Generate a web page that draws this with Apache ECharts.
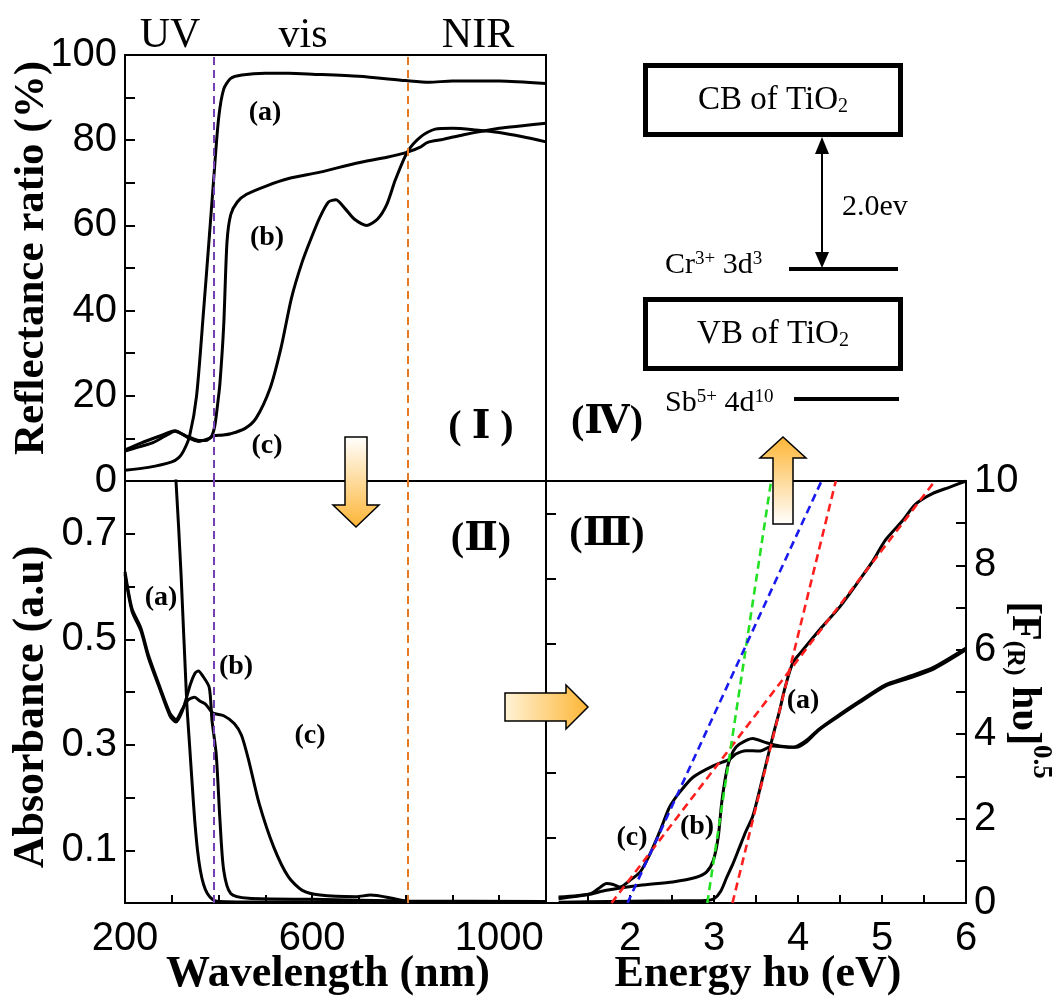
<!DOCTYPE html>
<html>
<head>
<meta charset="utf-8">
<script src="https://cdn.jsdelivr.net/npm/echarts@6/dist/echarts.min.js"></script>
<style>
  html, body { margin: 0; padding: 0; background: #fff; }
  #chart { width: 1058px; height: 1005px; }
</style>
</head>
<body>
<div id="chart"></div>
<script>
// ---- data ----
// (I) reflectance ratio (%) vs wavelength (nm)
const reflA_nm = [200, 250, 300, 315, 325, 338, 353, 368, 380, 389, 400, 411, 426, 450, 500, 550, 600, 700, 800, 850, 900, 1000, 1100];
const reflA = [2.5, 3.2, 4.5, 5.5, 7, 10.5, 20, 40, 57, 70, 85, 92, 94.5, 95.3, 95.7, 95.7, 95.5, 95, 94, 93.6, 93.9, 93.9, 93.3];
const reflB_nm = [200, 230, 260, 285, 307, 330, 355, 372, 385, 392, 398, 403, 411, 418, 426, 440, 460, 503, 550, 617, 694, 760, 804, 830, 847, 880, 924, 1000, 1050, 1100];
const reflB = [7, 8, 9, 10.5, 11.7, 10.6, 9.6, 9.5, 10.5, 13, 18, 23, 36.5, 56, 62.5, 65.5, 67.3, 69.3, 71, 72.5, 74.6, 76, 77.2, 78.3, 79.5, 80.2, 81.3, 82.8, 83.4, 84];
const reflC_nm = [200, 234, 273, 307, 334, 357, 380, 389, 410, 426, 456, 480, 510, 533, 556, 579, 598, 617, 635, 651, 670, 690, 717, 740, 760, 778, 804, 832, 863, 900, 950, 1000, 1050, 1100];
const reflC = [7.3, 8.9, 10.5, 11.8, 10.2, 9.3, 10, 10.6, 10.8, 11.1, 12.3, 14.7, 21.7, 31, 43, 51.5, 57, 62, 65.5, 66, 64, 61.5, 60, 61.5, 65, 70.7, 77.3, 80.8, 82.6, 82.8, 82.4, 81.8, 80.8, 79.6];

// (II) absorbance (a.u) vs wavelength (nm)
const absA_nm = [300, 309, 320, 332, 338, 344, 349, 355, 361, 368, 376, 388, 400, 500, 700, 800, 900, 1100];
const absA = [0.9, 0.8, 0.62, 0.38, 0.3, 0.22, 0.157, 0.1, 0.062, 0.035, 0.018, 0.006, 0.003, 0.002, 0.002, 0.002, 0.002, 0.002];
const absB_nm = [200, 215, 234, 250, 273, 296, 309, 323, 340, 350, 357, 365, 380, 386, 395, 403, 411, 426, 464, 600, 800, 1100];
const absB = [0.623, 0.553, 0.516, 0.465, 0.409, 0.355, 0.343, 0.365, 0.415, 0.436, 0.44, 0.432, 0.409, 0.346, 0.282, 0.157, 0.062, 0.018, 0.009, 0.007, 0.004, 0.003];
const absC_nm = [200, 215, 234, 250, 273, 296, 309, 323, 335, 349, 360, 372, 388, 411, 434, 449, 464, 487, 518, 549, 579, 617, 694, 725, 771, 804, 900, 1100];
const absC = [0.628, 0.558, 0.521, 0.47, 0.413, 0.36, 0.348, 0.368, 0.385, 0.39, 0.383, 0.377, 0.36, 0.355, 0.34, 0.318, 0.272, 0.188, 0.106, 0.05, 0.024, 0.015, 0.012, 0.015, 0.009, 0.003, 0.002, 0.002];

// (III) [F(R) hv]^0.5 vs energy (eV)
const taucA_eV = [1.15, 1.5, 2.0, 2.5, 2.9, 3.0, 3.08, 3.15, 3.23, 3.3, 3.38, 3.46, 3.54, 3.62, 3.7, 3.78, 3.84, 3.94, 4.06, 4.29, 4.49, 4.73, 4.89, 5.04, 5.24, 5.4, 5.6, 5.8, 6.0];
const taucA = [0.02, 0.03, 0.04, 0.05, 0.06, 0.1, 0.28, 0.6, 0.95, 1.3, 1.7, 2.05, 2.65, 3.3, 3.95, 4.55, 5.06, 5.7, 6.0, 6.55, 7.0, 7.65, 8.1, 8.6, 9.05, 9.45, 9.7, 9.85, 10];
const taucB_eV = [1.15, 1.5, 1.72, 2.12, 2.51, 2.79, 2.91, 2.99, 3.05, 3.09, 3.13, 3.17, 3.23, 3.3, 3.46, 3.62, 3.78, 3.98, 4.09, 4.25, 4.49, 4.73, 5.04, 5.28, 5.6, 6.0];
const taucB = [0.1, 0.2, 0.3, 0.42, 0.5, 0.61, 0.73, 1.0, 1.56, 2.35, 2.9, 3.3, 3.6, 3.76, 3.9, 3.8, 3.72, 3.69, 3.8, 4.1, 4.43, 4.75, 5.14, 5.3, 5.53, 6.0];
const taucC_eV = [1.15, 1.53, 1.65, 1.72, 1.8, 1.88, 2.0, 2.12, 2.24, 2.36, 2.47, 2.59, 2.75, 2.99, 3.19, 3.26, 3.38, 3.54, 3.7, 3.94, 4.09, 4.25, 4.49, 4.73, 5.04, 5.28, 5.6, 6.0];
const taucC = [0.14, 0.22, 0.38, 0.46, 0.44, 0.38, 0.54, 0.73, 1.17, 1.72, 2.27, 2.62, 2.98, 3.25, 3.41, 3.53, 3.61, 3.6, 3.72, 3.69, 3.84, 4.12, 4.46, 4.78, 5.17, 5.34, 5.57, 6.04];

// band-gap extrapolation lines (eV, value)
const fitRedA_eV = [3.22, 4.45], fitRedA = [0, 10];
const fitRedC_eV = [1.78, 5.63], fitRedC = [0, 10];
const fitGreen_eV = [2.92, 3.68], fitGreen = [0, 10];
const fitBlue_eV = [1.97, 4.28], fitBlue = [0, 10];

// region borders (nm)
const uvVisEdge = 390;
const visNirEdge = 805;

// tick labels
const reflTicks = [0, 20, 40, 60, 80, 100];
const absTicks = [0.1, 0.3, 0.5, 0.7];
const wlTicks = [200, 600, 1000];
const energyTicks = [2, 3, 4, 5, 6];
const taucTicks = [0, 2, 4, 6, 8, 10];

// ---- chart ----
const SANS = "'Liberation Sans', Arial, sans-serif";
const SERIF = "'Liberation Serif', 'DejaVu Serif', serif";

const pairs = (xs, ys) => xs.map((x, i) => [x, ys[i]]);
const pick = (list) => (v) => {
  const hit = list.find((t) => Math.abs(t - v) < 1e-6);
  return hit === undefined ? '' : String(hit);
};

const blackLine = { show: true, lineStyle: { color: '#000', width: 2 } };
const tick = (len) => ({ show: true, inside: true, length: len, lineStyle: { color: '#000', width: 2 } });
const tickLabel = (list, margin) => ({
  formatter: pick(list), fontSize: 40, fontFamily: SANS, color: '#000', margin: margin,
});

const curve = (xi, yi, xs, ys) => ({
  type: 'line', xAxisIndex: xi, yAxisIndex: yi, data: pairs(xs, ys),
  symbol: 'none', smooth: 0.25, lineStyle: { color: '#000', width: 3 }, z: 3, silent: true,
});
const fitLine = (xs, ys, color) => ({
  type: 'line', xAxisIndex: 2, yAxisIndex: 3, data: pairs(xs, ys),
  symbol: 'none', lineStyle: { color: color, width: 2.6, type: [8, 5] }, z: 4, silent: true,
});
const edges = {
  silent: true, symbol: 'none', label: { show: false },
  lineStyle: { type: [8, 5], width: 2 },
  data: [
    { xAxis: uvVisEdge, lineStyle: { color: '#7441b4' } },
    { xAxis: visNirEdge, lineStyle: { color: '#e67a22' } },
  ],
};

const label = (text, x, y, size, extra) => ({
  type: 'text', x: x, y: y, silent: true,
  style: Object.assign({
    text: text, fontSize: size, fontFamily: SERIF, fontWeight: 'bold', fill: '#000',
    textAlign: 'center', textVerticalAlign: 'middle',
  }, extra || {}),
});

const grad = (x2, y2, c0, c1) => ({
  type: 'linear', x: 0, y: 0, x2: x2, y2: y2,
  colorStops: [{ offset: 0, color: c0 }, { offset: 1, color: c1 }],
});
const arrow = (points, fill) => ({
  type: 'polygon', silent: true, shape: { points: points },
  style: { fill: fill, stroke: '#000', lineWidth: 1.5 }, z: 10,
});

const richBase = { fontFamily: SERIF, fill: '#000' };
const bandText = (text, x, y, align) => ({
  type: 'text', x: x, y: y, silent: true,
  style: {
    text: text, textAlign: align, textVerticalAlign: 'middle',
    rich: {
      t: Object.assign({ fontSize: 33 }, richBase),
      s: Object.assign({ fontSize: 20, padding: [13, 0, 0, 0] }, richBase),
      m: Object.assign({ fontSize: 30 }, richBase),
      u: Object.assign({ fontSize: 19, padding: [0, 0, 12, 0] }, richBase),
    },
  },
});

const option = {
  animation: false,
  backgroundColor: '#fff',
  grid: [
    { left: 125, top: 55, width: 421, height: 426, show: true, borderColor: '#000', borderWidth: 2, outerBoundsMode: 'none' },
    { left: 125, top: 481, width: 421, height: 422, show: true, borderColor: '#000', borderWidth: 2, outerBoundsMode: 'none' },
    { left: 546, top: 481, width: 420, height: 422, show: true, borderColor: '#000', borderWidth: 2, outerBoundsMode: 'none' },
  ],
  xAxis: [
    { gridIndex: 0, type: 'value', min: 200, max: 1100, axisLine: blackLine,
      axisTick: { show: false }, axisLabel: { show: false }, splitLine: { show: false } },
    { gridIndex: 1, type: 'value', min: 200, max: 1100, interval: 100, axisLine: blackLine,
      axisTick: tick(8), axisLabel: tickLabel(wlTicks, 16), splitLine: { show: false } },
    { gridIndex: 2, type: 'value', min: 1, max: 6, interval: 0.5, axisLine: blackLine,
      axisTick: tick(8), axisLabel: tickLabel(energyTicks, 16), splitLine: { show: false } },
  ],
  yAxis: [
    { gridIndex: 0, type: 'value', min: 0, max: 100, interval: 10, axisLine: blackLine,
      axisTick: tick(10), axisLabel: tickLabel(reflTicks, 8), splitLine: { show: false } },
    { gridIndex: 1, type: 'value', min: 0, max: 0.8, interval: 0.1, axisLine: blackLine,
      axisTick: tick(10), axisLabel: tickLabel(absTicks, 8), splitLine: { show: false } },
    { gridIndex: 2, type: 'value', position: 'left', min: 0, max: 6.5, interval: 1, axisLine: blackLine,
      axisTick: tick(10), axisLabel: { show: false }, splitLine: { show: false } },
    { gridIndex: 2, type: 'value', position: 'right', min: 0, max: 10, interval: 1, axisLine: blackLine,
      axisTick: tick(10), axisLabel: tickLabel(taucTicks, 8), splitLine: { show: false } },
  ],
  series: [
    Object.assign(curve(0, 0, reflA_nm, reflA), { markLine: edges }),
    curve(0, 0, reflB_nm, reflB),
    curve(0, 0, reflC_nm, reflC),
    Object.assign(curve(1, 1, absA_nm, absA), { markLine: edges }),
    curve(1, 1, absB_nm, absB),
    curve(1, 1, absC_nm, absC),
    curve(2, 3, taucA_eV, taucA),
    curve(2, 3, taucB_eV, taucB),
    curve(2, 3, taucC_eV, taucC),
    fitLine(fitRedA_eV, fitRedA, '#ff1f1f'),
    fitLine(fitRedC_eV, fitRedC, '#ff1f1f'),
    fitLine(fitGreen_eV, fitGreen, '#22e022'),
    fitLine(fitBlue_eV, fitBlue, '#1a1aee'),
  ],
  graphic: [
    // region names
    label('UV', 170, 36, 42, { fontWeight: 'normal' }),
    label('vis', 303, 36, 42, { fontWeight: 'normal' }),
    label('NIR', 478, 36, 42, { fontWeight: 'normal' }),
    // axis titles
    Object.assign(label('Reflectance ratio (%)', 32, 258, 43), { rotation: Math.PI / 2 }),
    Object.assign(label('Absorbance (a.u)', 32, 707, 44), { rotation: Math.PI / 2 }),
    label('Wavelength (nm)', 328, 975, 44),
    label('Energy h\u03c5 (eV)', 758, 975, 44),
    {
      type: 'text', x: 1024, y: 690, rotation: -Math.PI / 2, silent: true,
      style: {
        text: '{m|[F}{s|(R)}{m| h\u03c5]}{p|0.5}',
        textAlign: 'center', textVerticalAlign: 'middle', fill: '#000',
        rich: {
          m: Object.assign({ fontSize: 42, fontWeight: 'bold' }, richBase),
          s: Object.assign({ fontSize: 25, fontWeight: 'bold', padding: [20, 0, 0, 0] }, richBase),
          p: Object.assign({ fontSize: 27, fontWeight: 'bold', padding: [0, 0, 34, 0] }, richBase),
        },
      },
    },
    // panel numbers
    label('( \u2160 )', 481, 428, 40),
    label('(\u2161)', 481, 540, 40),
    label('(\u2162)', 607, 535, 40),
    label('(\u2163)', 607, 423, 40),
    // curve names
    label('(a)', 265, 113, 28), label('(b)', 267, 238, 28), label('(c)', 267, 446, 28),
    label('(a)', 161, 598, 28), label('(b)', 236, 667, 28), label('(c)', 310, 736, 28),
    label('(a)', 803, 701, 28), label('(b)', 697, 827, 28), label('(c)', 632, 838, 28),
    // arrows
    arrow([[345, 437], [367, 437], [367, 505], [379, 505], [356, 527], [333, 505], [345, 505]],
      grad(0, 1, '#ffffff', '#fdb535')),
    arrow([[773, 524], [793, 524], [793, 458], [806, 458], [783, 437], [760, 458], [773, 458]],
      grad(0, 1, '#fdb535', '#ffffff')),
    arrow([[505, 693], [566, 693], [566, 685], [588, 707], [566, 729], [566, 721], [505, 721]],
      grad(1, 0, '#fff3d6', '#fdb535')),
    // (IV) band diagram
    { type: 'rect', silent: true, shape: { x: 645.5, y: 65.5, width: 255, height: 69 },
      style: { fill: 'none', stroke: '#000', lineWidth: 5 } },
    { type: 'rect', silent: true, shape: { x: 645.5, y: 299.5, width: 255, height: 69 },
      style: { fill: 'none', stroke: '#000', lineWidth: 5 } },
    bandText('{t|CB of TiO}{s|2}', 773, 100, 'center'),
    bandText('{t|VB of TiO}{s|2}', 773, 334, 'center'),
    { type: 'line', silent: true, shape: { x1: 822, y1: 150, x2: 822, y2: 256 }, style: { stroke: '#000', lineWidth: 2 } },
    { type: 'polygon', silent: true, shape: { points: [[822, 137], [815, 154], [829, 154]] }, style: { fill: '#000' } },
    { type: 'polygon', silent: true, shape: { points: [[822, 268], [815, 252], [829, 252]] }, style: { fill: '#000' } },
    label('2.0ev', 842, 207, 30, { fontWeight: 'normal', textAlign: 'left' }),
    { type: 'line', silent: true, shape: { x1: 789, y1: 269, x2: 898, y2: 269 }, style: { stroke: '#000', lineWidth: 4 } },
    { type: 'line', silent: true, shape: { x1: 794, y1: 399, x2: 899, y2: 399 }, style: { stroke: '#000', lineWidth: 4 } },
    bandText('{m|Cr}{u|3+}{m| 3d}{u|3}', 665, 265, 'left'),
    bandText('{m|Sb}{u|5+}{m| 4d}{u|10}', 665, 403, 'left'),
  ],
};

const myChart = echarts.init(document.getElementById('chart'), null, { renderer: 'canvas' });
myChart.setOption(option);
</script>
</body>
</html>
